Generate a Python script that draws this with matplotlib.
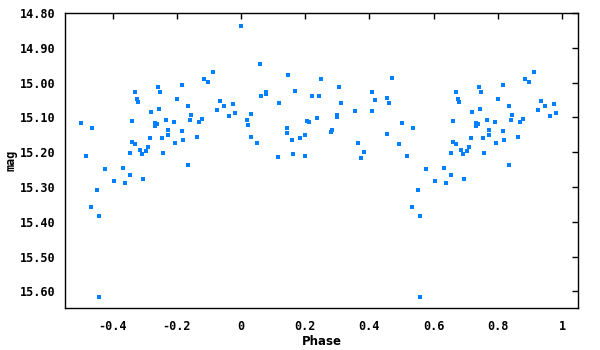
import matplotlib
matplotlib.use("Agg")
import matplotlib.pyplot as plt
import numpy as np

phase = [
    0.001, 0.060, 0.147, 0.250, 0.079, 0.079, 0.063, 0.169, 0.222, 0.244,
    0.119, 0.032, 0.020, 0.023, 0.032, 0.051, 0.116, 0.144, 0.144, 0.160,
    0.163, 0.185, 0.200, 0.200, 0.207, 0.213, 0.238, 0.471, 0.306, 0.409,
    0.456, 0.462, 0.418, 0.312, 0.356, 0.409, 0.300, 0.300, 0.284, 0.281,
    0.365, 0.384, 0.375, 0.456, 0.493,
    0.502, 0.518, 0.742, 0.749, 0.671, 0.677, 0.680, 0.721, 0.745, 0.661,
    0.733, 0.739, 0.733, 0.537, 0.661, 0.671, 0.717, 0.755, 0.711, 0.686,
    0.705, 0.655, 0.693, 0.758, 0.577, 0.633, 0.655, 0.605, 0.640, 0.696,
    0.552, 0.534, 0.559, 0.559, 0.914, 0.886, 0.898, 0.817, 0.801, 0.836,
    0.936, 0.948, 0.976, 0.926, 0.982, 0.964, 0.845, 0.767, 0.792, 0.842,
    0.879, 0.870, 0.773, 0.817, 0.773, 0.820, 0.863, 0.795, 0.836,
]
mag = [
    14.838, 14.948, 14.977, 14.991, 15.026, 15.034, 15.038, 15.023, 15.040, 15.040,
    15.058, 15.089, 15.107, 15.121, 15.156, 15.173, 15.214, 15.130, 15.144, 15.164,
    15.205, 15.159, 15.150, 15.211, 15.110, 15.113, 15.101, 14.986, 15.014, 15.026,
    15.043, 15.058, 15.049, 15.058, 15.081, 15.081, 15.092, 15.098, 15.136, 15.141,
    15.173, 15.199, 15.216, 15.147, 15.176,
    15.115, 15.211, 15.012, 15.026, 15.026, 15.046, 15.055, 15.084, 15.075, 15.110,
    15.115, 15.118, 15.124, 15.130, 15.170, 15.176, 15.159, 15.159, 15.185, 15.193,
    15.196, 15.202, 15.205, 15.202, 15.248, 15.245, 15.266, 15.283, 15.289, 15.277,
    15.309, 15.358, 15.384, 15.615, 14.971, 14.991, 14.997, 15.006, 15.046, 15.066,
    15.052, 15.066, 15.063, 15.078, 15.087, 15.095, 15.092, 15.107, 15.113, 15.107,
    15.104, 15.113, 15.136, 15.139, 15.150, 15.164, 15.156, 15.173, 15.237,
]

xticks = [-0.4, -0.2, 0, 0.2, 0.4, 0.6, 0.8, 1]
xticklabels = ["-0.4", "-0.2", "0", "0.2", "0.4", "0.6", "0.8", "1"]
yticks = [14.8, 14.9, 15.0, 15.1, 15.2, 15.3, 15.4, 15.5, 15.6]
yticklabels = ["14.80", "14.90", "15.00", "15.10", "15.20", "15.30", "15.40", "15.50", "15.60"]

ph = np.array(phase)
mg = np.array(mag)
sel = ph >= 0.5
ph_all = np.concatenate([ph, ph[sel] - 1.0])
mg_all = np.concatenate([mg, mg[sel]])

fig = plt.figure(figsize=(6, 3.5), dpi=100)
ax = fig.add_axes([65/600, 42/350, 513/600, 295/350])
ax.plot(ph_all, mg_all, linestyle="none", marker="s", markersize=2.3,
        markeredgewidth=0, color="#0080ff")
ax.set_xlim(-0.548, 1.05)
ax.set_ylim(15.648, 14.80)
ax.set_xticks(xticks)
ax.set_xticklabels(xticklabels)
ax.set_yticks(yticks)
ax.set_yticklabels(yticklabels)
for lab in ax.get_xticklabels() + ax.get_yticklabels():
    lab.set_fontfamily("DejaVu Sans Mono")
    lab.set_fontweight("bold")
    lab.set_fontsize(8.5)
ax.tick_params(direction="in", length=4, width=1, labelsize=8.5, pad=9,
               color="black")
ax.tick_params(axis="x", bottom=False, top=True, labelbottom=True)
ax.tick_params(axis="y", left=False, right=True, labelleft=True, pad=7)
for s in ax.spines.values():
    s.set_linewidth(1)
    s.set_color("black")
ax.set_xlabel("Phase", fontsize=8.5, fontweight="bold", labelpad=1)
ax.set_ylabel("mag", fontsize=8.5, fontweight="bold",
              family="DejaVu Sans Mono")
ax.yaxis.set_label_coords(-0.092, 0.5)
fig.savefig("out.png", dpi=100)
